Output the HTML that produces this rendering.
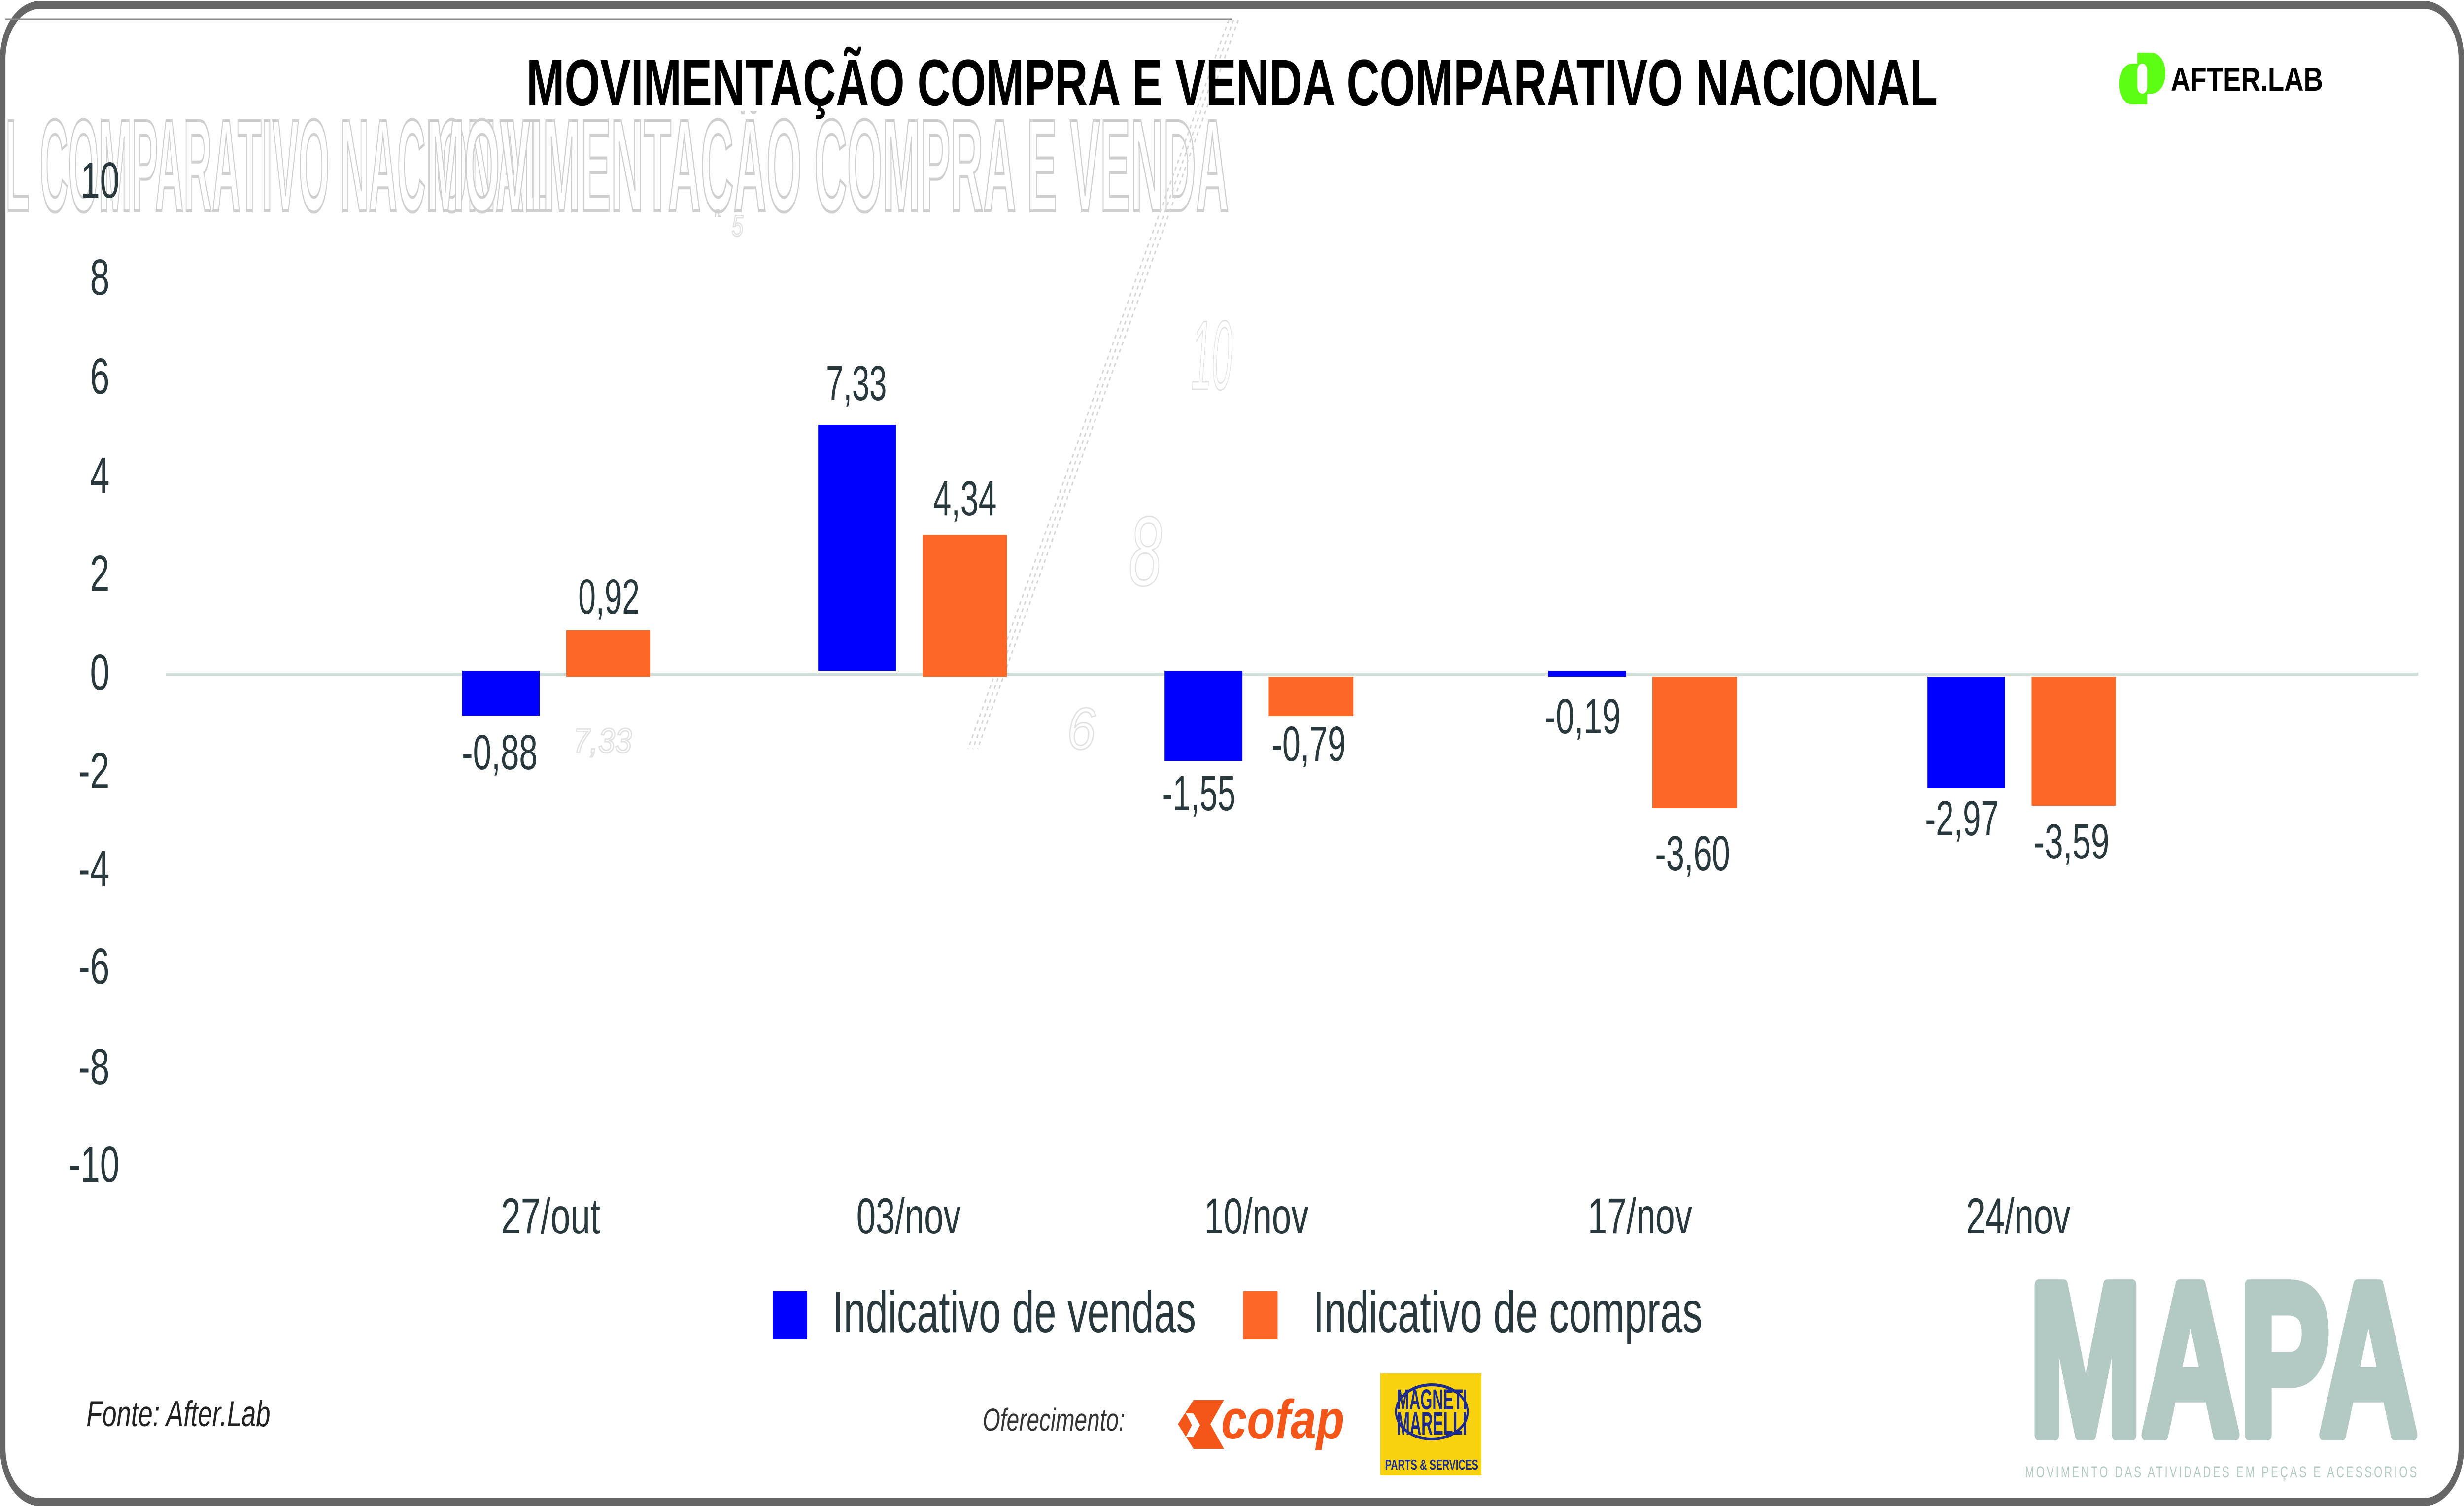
<!DOCTYPE html>
<html>
<head>
<meta charset="utf-8">
<style>
  html,body{margin:0;padding:0;background:#fff;overflow:hidden;width:100%;height:100%;}
  svg{display:block;position:fixed;left:0;top:0;width:100vw;height:100vh;}
  .lbl{font-family:"Liberation Sans",Arial,sans-serif;fill:#29383d;}
</style>
</head>
<body>
<svg viewBox="0 0 7219 3056" preserveAspectRatio="none" xmlns="http://www.w3.org/2000/svg">
  <rect x="0" y="0" width="7219" height="3056" fill="#ffffff"/>
  <!-- frame -->
  <rect x="8" y="10" width="7203" height="3038" rx="110" ry="110" fill="#ffffff" stroke="#666666" stroke-width="16"/>
  <line x1="16" y1="39" x2="3610" y2="39" stroke="#8a8a8a" stroke-width="3"/>

  <!-- ghost artifacts -->
  <defs>
    <clipPath id="gclip"><rect x="16" y="225" width="3598" height="215"/></clipPath>
  </defs>
  <g clip-path="url(#gclip)">
    <g transform="scale(1,2)">
      <text x="16" y="214" font-family="Liberation Sans, Arial, sans-serif" font-weight="bold" font-size="133" fill="#ffffff" stroke="#cfcfcf" stroke-width="3" textLength="1590" lengthAdjust="spacingAndGlyphs">L COMPARATIVO NACIONAL</text>
      <text x="1250" y="214" font-family="Liberation Sans, Arial, sans-serif" font-weight="bold" font-size="133" fill="#ffffff" stroke="#cfcfcf" stroke-width="3" textLength="2350" lengthAdjust="spacingAndGlyphs">MOVIMENTAÇÃO COMPRA E VENDA</text>
    </g>
  </g>
  <g stroke="#d6d6d6" stroke-width="4" stroke-dasharray="8 8" fill="none">
    <line x1="3600" y1="40" x2="2836" y2="1520"/>
    <line x1="3614" y1="40" x2="2850" y2="1520"/>
    <line x1="3628" y1="40" x2="2864" y2="1520"/>
  </g>
  <g font-family="Liberation Sans, Arial, sans-serif" font-style="italic" fill="none" stroke="#e2e2e2" stroke-width="3">
    <text x="3490" y="790" font-size="200" textLength="120" lengthAdjust="spacingAndGlyphs">10</text>
    <text x="3307" y="1188" font-size="200" textLength="97" lengthAdjust="spacingAndGlyphs">8</text>
    <text x="3126" y="1520" font-size="120" textLength="84" lengthAdjust="spacingAndGlyphs">6</text>
    <text x="1679" y="1527" font-size="70" textLength="172" lengthAdjust="spacingAndGlyphs">7,33</text>
    <text x="2144" y="479" font-size="60">5</text>
  </g>

  <!-- title -->
  <text x="1542" y="214" font-family="Liberation Sans, Arial, sans-serif" font-weight="bold" font-size="134" fill="#000000" textLength="4135" lengthAdjust="spacingAndGlyphs">MOVIMENTAÇÃO COMPRA E VENDA COMPARATIVO NACIONAL</text>

  <!-- AFTER.LAB logo -->
  <rect x="6208" y="129" width="83" height="83" rx="40" fill="#5cff14"/>
  <rect x="6250" y="129" width="41" height="83" fill="#5cff14"/>
  <rect x="6262" y="107" width="82" height="83" rx="40" fill="#5cff14"/>
  <rect x="6262" y="107" width="40" height="83" fill="#5cff14"/>
  <rect x="6262" y="129" width="29" height="61" rx="14" fill="#ffffff"/>
  <text x="6360" y="184" font-family="Liberation Sans, Arial, sans-serif" font-weight="bold" font-size="67" fill="#000000" textLength="446" lengthAdjust="spacingAndGlyphs">AFTER.LAB</text>

  <!-- y axis labels -->
  <g class="lbl" font-size="103" text-anchor="end">
    <text x="350" y="401">10</text>
    <text x="321" y="598">8</text>
    <text x="321" y="799">6</text>
    <text x="321" y="1000">4</text>
    <text x="321" y="1199">2</text>
    <text x="321" y="1400">0</text>
    <text x="321" y="1599">-2</text>
    <text x="321" y="1798">-4</text>
    <text x="321" y="1996">-6</text>
    <text x="321" y="2200">-8</text>
    <text x="350" y="2398">-10</text>
  </g>

  <!-- zero line -->
  <rect x="485" y="1365" width="6600" height="6" fill="#d3dfdb"/>

  <!-- bars -->
  <g fill="#0000ff">
    <rect x="1354" y="1361" width="227" height="91"/>
    <rect x="2397" y="862" width="228" height="499"/>
    <rect x="3412" y="1361" width="228" height="183"/>
    <rect x="4536" y="1361" width="228" height="12"/>
    <rect x="5647" y="1373" width="227" height="227"/>
  </g>
  <g fill="#fd6829">
    <rect x="1659" y="1279" width="247" height="94"/>
    <rect x="2703" y="1085" width="247" height="288"/>
    <rect x="3717" y="1373" width="248" height="80"/>
    <rect x="4841" y="1373" width="248" height="267"/>
    <rect x="5952" y="1373" width="247" height="262"/>
  </g>

  <!-- data labels -->
  <g class="lbl" font-size="100" text-anchor="middle">
    <text x="1464" y="1561" textLength="222" lengthAdjust="spacingAndGlyphs">-0,88</text>
    <text x="1784" y="1245" textLength="180" lengthAdjust="spacingAndGlyphs">0,92</text>
    <text x="2509" y="812" textLength="178" lengthAdjust="spacingAndGlyphs">7,33</text>
    <text x="2827" y="1046" textLength="186" lengthAdjust="spacingAndGlyphs">4,34</text>
    <text x="3512" y="1644" textLength="216" lengthAdjust="spacingAndGlyphs">-1,55</text>
    <text x="3834" y="1544" textLength="218" lengthAdjust="spacingAndGlyphs">-0,79</text>
    <text x="4637" y="1488" textLength="223" lengthAdjust="spacingAndGlyphs">-0,19</text>
    <text x="4959" y="1766" textLength="220" lengthAdjust="spacingAndGlyphs">-3,60</text>
    <text x="5748" y="1695" textLength="216" lengthAdjust="spacingAndGlyphs">-2,97</text>
    <text x="6069" y="1742" textLength="222" lengthAdjust="spacingAndGlyphs">-3,59</text>
  </g>

  <!-- x labels -->
  <g class="lbl" font-size="102" text-anchor="middle">
    <text x="1613" y="2503" textLength="291" lengthAdjust="spacingAndGlyphs">27/out</text>
    <text x="2662" y="2503" textLength="306" lengthAdjust="spacingAndGlyphs">03/nov</text>
    <text x="3681" y="2503" textLength="306" lengthAdjust="spacingAndGlyphs">10/nov</text>
    <text x="4805" y="2503" textLength="306" lengthAdjust="spacingAndGlyphs">17/nov</text>
    <text x="5913" y="2503" textLength="306" lengthAdjust="spacingAndGlyphs">24/nov</text>
  </g>

  <!-- legend -->
  <rect x="2264" y="2620" width="101" height="98" fill="#0000ff"/>
  <text class="lbl" x="2439" y="2703" font-size="119" textLength="1065" lengthAdjust="spacingAndGlyphs">Indicativo de vendas</text>
  <rect x="3642" y="2620" width="101" height="98" fill="#fd6829"/>
  <text class="lbl" x="3847" y="2703" font-size="119" textLength="1141" lengthAdjust="spacingAndGlyphs">Indicativo de compras</text>

  <!-- footer -->
  <text x="253" y="2894" font-family="Liberation Sans, Arial, sans-serif" font-style="italic" font-size="73" fill="#222222" textLength="539" lengthAdjust="spacingAndGlyphs">Fonte: After.Lab</text>
  <text x="2879" y="2903" font-family="Liberation Sans, Arial, sans-serif" font-style="italic" font-size="64" fill="#333333" textLength="417" lengthAdjust="spacingAndGlyphs">Oferecimento:</text>

  <!-- cofap logo -->
  <polygon points="3497,2841 3586,2841 3546,2890 3586,2940 3497,2940 3451,2890" fill="#f4561a"/>
  <polygon points="3474,2868 3496,2868 3516,2892 3496,2916 3474,2916 3492,2892" fill="#ffffff"/>
  <text x="3578" y="2919" font-family="Liberation Sans, Arial, sans-serif" font-weight="bold" font-style="italic" font-size="112" fill="#f4561a" textLength="361" lengthAdjust="spacingAndGlyphs">cofap</text>

  <!-- magneti marelli logo -->
  <rect x="4044" y="2787" width="296" height="207" fill="#f9d20f"/>
  <ellipse cx="4195" cy="2865" rx="105" ry="55" fill="none" stroke="#1b2a8c" stroke-width="6"/>
  <text x="4195" y="2860" text-anchor="middle" font-family="Liberation Sans, Arial, sans-serif" font-weight="bold" font-size="58" fill="#1b2a8c" textLength="206" lengthAdjust="spacingAndGlyphs">MAGNETI</text>
  <text x="4195" y="2911" text-anchor="middle" font-family="Liberation Sans, Arial, sans-serif" font-weight="bold" font-size="66" fill="#1b2a8c" textLength="206" lengthAdjust="spacingAndGlyphs">MARELLI</text>
  <text x="4058" y="2982" font-family="Liberation Sans, Arial, sans-serif" font-weight="bold" font-size="29" fill="#1b2a8c" textLength="273" lengthAdjust="spacingAndGlyphs">PARTS &amp; SERVICES</text>

  <!-- MAPA logo -->
  <text x="5945" y="2911" font-family="Liberation Sans, Arial, sans-serif" font-weight="bold" font-size="440" fill="#b3c9c3" stroke="#b3c9c3" stroke-width="24" stroke-linejoin="round" textLength="1137" lengthAdjust="spacingAndGlyphs">MAPA</text>
  <text x="5933" y="2998" font-family="Liberation Sans, Arial, sans-serif" font-size="32" fill="#b3c9c3" textLength="1148" lengthAdjust="spacing">MOVIMENTO DAS ATIVIDADES EM PEÇAS E ACESSORIOS</text>
</svg>
</body>
</html>
